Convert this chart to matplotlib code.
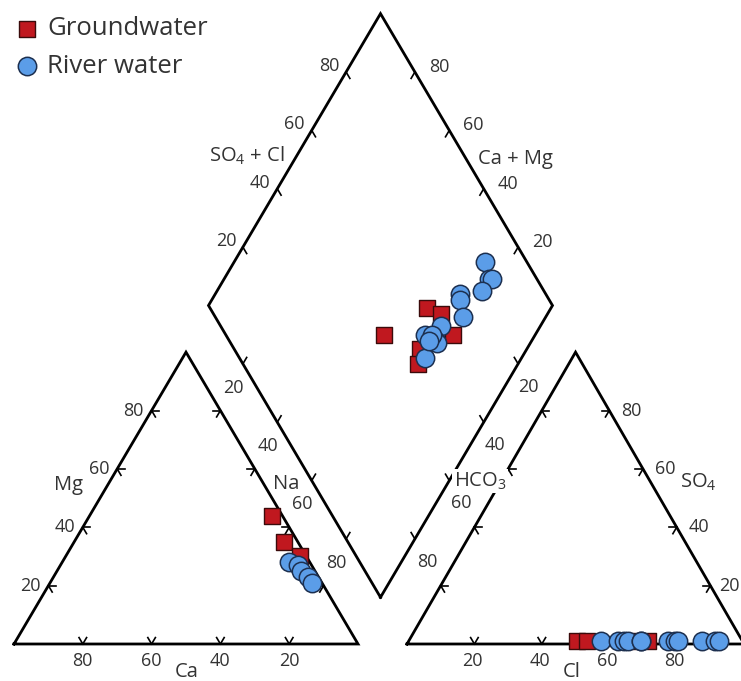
import numpy as np
import matplotlib
matplotlib.use("Agg")
import matplotlib.pyplot as plt

plt.rcParams['font.family'] = ['Open Sans', 'DejaVu Sans']
plt.rcParams['mathtext.fontset'] = 'custom'
plt.rcParams['mathtext.rm'] = 'Open Sans'

# cation triangle (% of meq)
gw_cat_na = [53, 61, 68]
gw_cat_mg = [44, 35, 30]
rw_cat_na = [66, 69, 71, 74, 76]
rw_cat_mg = [28, 27, 25, 23, 21]

# anion triangle
gw_an_cl = [50, 53, 67, 71]
gw_an_so4 = [1, 1, 1, 1]
rw_an_cl = [57, 62, 64, 65, 69, 69, 77, 79, 80, 87, 91, 92]
rw_an_so4 = [1, 1, 1, 1, 1, 1, 1, 1, 1, 1, 1, 1]

# diamond: Na+K % and SO4+Cl %
gw_dia_na = [56, 64, 69, 76, 69, 71]
gw_dia_a = [46, 63, 66, 66, 54, 51]
rw_dia_na = [73, 77, 78, 77, 71, 72, 76, 71, 68, 72, 73, 72, 70, 70]
rw_dia_a = [88, 86, 87, 82, 75, 74, 72, 64, 58, 60, 60, 54, 60, 58]

ticks = [20, 40, 60, 80]

# layout
S = np.sqrt(3) / 2
X0R, WR = 1.1424, 0.98     # right triangle start / base width
CX, CY = 1.0654, 1.0045    # diamond centre
TL = 0.022                 # tick arm length
TXT = '#333333'


def cat_xy(na, mg):
    na = np.asarray(na) / 100.0
    mg = np.asarray(mg) / 100.0
    return na + 0.5 * mg, S * mg


def an_xy(cl, so4):
    cl = np.asarray(cl) / 100.0
    so4 = np.asarray(so4) / 100.0
    return X0R + WR * (cl + 0.5 * so4), S * so4


def dia_xy(na, a):
    na = np.asarray(na) / 100.0
    a = np.asarray(a) / 100.0
    return CX - 0.5 * (1 - na) + 0.5 * a, CY - S + S * (1 - na) + S * a


def px(x, y):
    # image pixel -> data coords (used for axis-name placement only)
    return (x - 14) / 344.0, (644 - y) / 337.0


fig = plt.figure(figsize=(7.41, 6.81), dpi=100)
ax = fig.add_axes([0, 0, 1, 1])
ax.set_xlim(-14 / 344.0, 727 / 344.0)
ax.set_ylim(-37 / 337.0, 644 / 337.0)
ax.axis('off')

lw = 2.0
# outlines
ax.plot([0, 1, 0.5, 0], [0, 0, S, 0], color='k', lw=lw, solid_joinstyle='miter', zorder=2)
ax.plot([X0R, X0R + WR, X0R + WR / 2, X0R], [0, 0, S, 0], color='k', lw=lw,
        solid_joinstyle='miter', zorder=2)
dx, dy = dia_xy([100, 100, 0, 0, 100], [0, 100, 100, 0, 0])
ax.plot(dx, dy, color='k', lw=lw, solid_joinstyle='miter', zorder=2)


def arms(x, y, angles):
    for th in angles:
        r = np.deg2rad(th)
        ax.plot([x, x + TL * np.cos(r)], [y, y + TL * np.sin(r)], color='k', lw=1.2, zorder=2)


def lab(x, y, txt, off, ha='center'):
    ax.annotate(txt, (x, y), xytext=off, textcoords='offset pixels', ha=ha, va='center',
                fontsize=13, color=TXT)


for v in ticks:
    # left triangle
    x, y = cat_xy(100 - v, 0)
    arms(x, y, [60, 120]); lab(x, y, str(v), (0, -17))
    x, y = cat_xy(0, v)
    arms(x, y, [0, -60]); lab(x, y, str(v), (-8, 0), ha='right')
    x, y = cat_xy(v, 100 - v)
    arms(x, y, [180, 240]); lab(x, y, str(v), (13, 23))
    # right triangle
    x, y = an_xy(v, 0)
    arms(x, y, [60, 120]); lab(x, y, str(v), (-2, -17))
    x, y = an_xy(100 - v, v)
    arms(x, y, [180, 240]); lab(x, y, str(v), (12 if v > 20 else 9, 0), ha='left')
    x, y = an_xy(0, 100 - v)
    arms(x, y, [0, -60]); lab(x, y, str(v), (-13, 24))
    # diamond
    x, y = dia_xy(0, v)
    arms(x, y, [-60]); lab(x, y, str(v), (-17, 6))
    x, y = dia_xy(100 - v, 100)
    arms(x, y, [240]); lab(x, y, str(v), (24, 5))
    x, y = dia_xy(v, 0)
    arms(x, y, [60])
    x, y = dia_xy(100, v)
    arms(x, y, [120])

# axis names
name_kw = dict(fontsize=14.5, color=TXT, va='center')
ax.text(*px(285, 156), r'SO$_\mathrm{4}$ + Cl', ha='right', **name_kw)
ax.text(*px(478, 159), 'Ca + Mg', ha='left', **name_kw)
ax.text(*px(68, 485), 'Mg', ha='center', **name_kw)
ax.text(*px(286, 484), 'Na', ha='center', **name_kw)
ax.text(*px(187, 672), 'Ca', ha='center', **name_kw)
ax.text(*px(480, 481), r'HCO$_\mathrm{3}$', ha='center', zorder=3,
        bbox=dict(facecolor='white', edgecolor='none', pad=1), **name_kw)
ax.text(*px(698, 482), r'SO$_\mathrm{4}$', ha='center', **name_kw)
ax.text(*px(572, 672), 'Cl', ha='center', **name_kw)

# samples
sq = dict(marker='s', s=125, facecolor='#c0181f', edgecolor='#3b0b0b', linewidth=1.0, zorder=4)
ci = dict(marker='o', s=175, facecolor='#5b9de8', edgecolor='#1c2f4f', linewidth=1.1, zorder=5)

ax.scatter(*cat_xy(gw_cat_na, gw_cat_mg), label='Groundwater', **sq)
ax.scatter(*an_xy(gw_an_cl, gw_an_so4), **sq)
ax.scatter(*dia_xy(gw_dia_na, gw_dia_a), **sq)
ax.scatter(*cat_xy(rw_cat_na, rw_cat_mg), label='River water', **ci)
ax.scatter(*an_xy(rw_an_cl, rw_an_so4), **ci)
ax.scatter(*dia_xy(rw_dia_na, rw_dia_a), **ci)

leg = ax.legend(loc='upper left', bbox_to_anchor=(0.020, 0.976), frameon=False,
                fontsize=18.5, handletextpad=0.3, labelspacing=0.5,
                borderaxespad=0, handlelength=0.95, borderpad=0)
for t in leg.get_texts():
    t.set_color(TXT)

fig.savefig('out.png', dpi=100)
